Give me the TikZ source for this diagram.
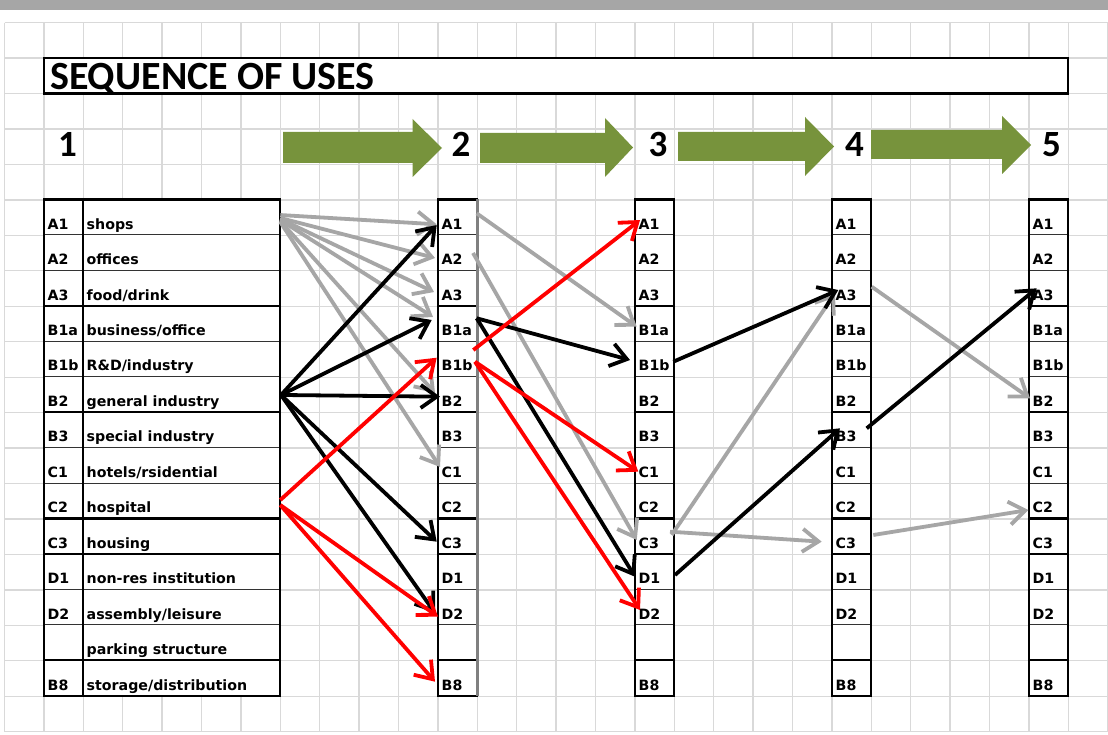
\documentclass[tikz,border=0pt]{standalone}
\usepackage{fontspec}
\usetikzlibrary{arrows.meta,calc}
\newfontfamily\cellfont{DejaVu Sans}
\newfontfamily\headfont{Carlito}
\definecolor{sheetgrid}{HTML}{D9D9D9}
\definecolor{sheetbar}{HTML}{A6A6A6}
\definecolor{stepgreen}{HTML}{77933C}
\definecolor{flowgray}{HTML}{A6A6A6}
\definecolor{flowred}{HTML}{FF0000}
\definecolor{rulegray}{HTML}{808080}

\tikzset{
  gridline/.style={draw=sheetgrid, line width=1.3pt},
  cell/.style={rectangle, inner sep=0pt, outer sep=0pt, anchor=north west,
    fill=white, minimum height=35.45pt},
  codecell/.style={cell, minimum width=39.4pt},
  namecell/.style={cell, minimum width=197pt},
  celltext/.style={anchor=base west, inner sep=0pt,
    font=\cellfont\bfseries\fontsize{14.2}{15}\selectfont},
  thinrule/.style={draw=black!80, line width=1.1pt},
  thickrule/.style={draw=black, line width=2.2pt},
  flow/.style={line width=3.8pt, -{Straight Barb[length=16pt,width=23pt]}},
  grayflow/.style={flow, draw=flowgray},
  blackflow/.style={flow, draw=black},
  redflow/.style={flow, draw=flowred},
  stagearrow/.style={fill=stepgreen},
  stagenum/.style={anchor=base, inner sep=0pt,
    font=\headfont\bfseries\fontsize{37}{37}\selectfont},
}

\begin{document}
\begin{tikzpicture}[x=1pt,y=-1pt]
\useasboundingbox (0,0) rectangle (1108,735);
\fill[white] (0,0) rectangle (1108,735);
\fill[sheetbar] (0,0) rectangle (1108,10.5);

% spreadsheet grid
\foreach \k in {0,...,28}
  \draw[gridline] ({4.5+39.4*\k},22.7) -- ({4.5+39.4*\k},731.7);
\foreach \j in {0,...,20}
  \draw[gridline] (4.5,{22.7+35.45*\j}) -- (1108,{22.7+35.45*\j});

% title bar
\node[cell, draw=black, line width=2.2pt, minimum width=1024.4pt] (title) at (43.9,58.15) {};
\node[anchor=base west, inner sep=0pt,
      font=\headfont\bfseries\fontsize{40}{40}\selectfont]
      (titletext) at ($(title.south west)+(6.1,-4.3)$) {SEQUENCE OF USES};

% stage numbers
\node[stagenum] (s1) at (67.5,156.7) {1};
\node[stagenum] (s2) at (461,156.7) {2};
\node[stagenum] (s3) at (658,156.7) {3};
\node[stagenum] (s4) at (854.5,156.7) {4};
\node[stagenum] (s5) at (1051.5,156.7) {5};

% block arrows between stages
\fill[stagearrow] (283,132) -- (412.5,132) -- (412.5,119) -- (442,148) -- (412.5,177) -- (412.5,163) -- (283,163) -- cycle;
\fill[stagearrow] (480,133) -- (605,133) -- (605,118) -- (633,147.5) -- (605,177) -- (605,163) -- (480,163) -- cycle;
\fill[stagearrow] (678,132) -- (805,132) -- (805,117) -- (834,146.5) -- (805,176) -- (805,161) -- (678,161) -- cycle;
\fill[stagearrow] (871,130) -- (1002,130) -- (1002,116) -- (1031,145) -- (1002,174) -- (1002,159) -- (871,159) -- cycle;

% use-class columns
\foreach \c [count=\r] in {A1,A2,A3,B1a,B1b,B2,B3,C1,C2,C3,D1,D2,{},B8} {
  \node[codecell] (c1-\r) at (43.9,{199.5+35.45*(\r-1)}) {};
  \node[celltext] (l1-\r) at ($(c1-\r.south west)+(3.6,-5.8)$) {\c};
  \foreach \t/\x in {2/437.9,3/634.9,4/831.9,5/1028.9} {
    \node[codecell] (c\t-\r) at (\x,{199.5+35.45*(\r-1)}) {};
    \node[celltext] (l\t-\r) at ($(c\t-\r.south west)+(3.6,-5.8)$) {\c};
  }
}
\foreach \txt [count=\r] in {shops,offices,food/drink,business/office,R\&D/industry,
    general industry,special industry,hotels/rsidential,hospital,housing,
    non-res institution,assembly/leisure,parking structure,storage/distribution} {
  \node[namecell] (n-\r) at (83.3,{199.5+35.45*(\r-1)}) {};
  \node[celltext] (nt-\r) at ($(n-\r.south west)+(3.2,-5.8)$) {\txt};
}

% cell borders
\foreach \r in {1,2,4,5,7,8,11,12} {
  \draw[thinrule] (c1-\r.south west) -- (n-\r.south east);
  \foreach \t in {2,...,5}
    \draw[thinrule] (c\t-\r.south west) -- (c\t-\r.south east);
}
\foreach \r in {3,6,9,10,13} {
  \draw[thickrule] (c1-\r.south west) -- (n-\r.south east);
  \foreach \t in {2,...,5}
    \draw[thickrule] (c\t-\r.south west) -- (c\t-\r.south east);
}
\draw[thickrule] (c1-1.north west) rectangle (n-14.south east);
\draw[thickrule] (c1-1.north east) -- (c1-14.south east);
\foreach \t in {2,...,5}
  \draw[thickrule] (c\t-1.north west) rectangle (c\t-14.south east);
\draw[draw=rulegray, line width=2.6pt] (c2-1.north east) -- (c2-14.south east);

% stage 1 -> 2
\draw[grayflow] ($(n-1.east)+(0,-2.2)$) -- ($(c2-1.west)+(-1.2,7.1)$);
\draw[grayflow] ($(n-1.east)+(0,0.8)$) -- ($(c2-2.west)+(-2.9,5.3)$);
\draw[grayflow] ($(n-1.east)+(0,1.8)$) -- ($(c2-3.west)+(-3.9,3.9)$);
\draw[grayflow] ($(n-1.east)+(0,2.8)$) -- ($(c2-4.west)+(-4.9,-6.6)$);
\draw[grayflow] ($(n-1.east)+(0,3.8)$) -- ($(c2-6.west)+(-2.9,-1.5)$);
\draw[grayflow] ($(n-1.east)+(0,4.8)$) -- ($(c2-8.west)+(2.1,1.6)$);
% stage 2 -> 3 (gray)
\draw[grayflow] ($(c2-1.east)+(-0.6,-3.9)$) -- ($(c3-4.west)+(1.8,3.1)$);
\draw[grayflow] ($(c2-2.east)+(-4.3,0.3)$) -- ($(c3-10.west)+(1.8,3.7)$);
% stage 3 -> 4 (gray)
\draw[grayflow] ($(c3-10.east)+(-2.6,-1.3)$) -- ($(c4-3.west)+(3.1,5.2)$);
\draw[grayflow] ($(c3-10.east)+(-4.3,-4.6)$) -- ($(c4-10.west)+(-10.2,5.4)$);
% stage 4 -> 5 (gray)
\draw[grayflow] ($(c4-3.east)+(0.4,-1.4)$) -- ($(c5-6.west)+(1.1,3.8)$);
\draw[grayflow] ($(c4-10.east)+(2,-1.3)$) -- ($(c5-9.west)+(-0.6,9.2)$);

% black flows
\draw[blackflow] ($(n-6.east)+(0.7,0.5)$) -- ($(c2-1.west)+(-1.2,7.8)$);
\draw[blackflow] ($(n-6.east)+(0.7,0.5)$) -- ($(c2-4.west)+(-6.2,-3.6)$);
\draw[blackflow] ($(n-6.east)+(0.7,0.5)$) -- ($(c2-6.west)+(2.1,2.2)$);
\draw[blackflow] ($(n-6.east)+(0.7,0.5)$) -- ($(c2-10.west)+(-1.2,5.4)$);
\draw[blackflow] ($(n-6.east)+(0.7,0.5)$) -- ($(c2-12.west)+(-2.9,5.8)$);
\draw[blackflow] ($(c2-4.east)+(-0.6,-5.3)$) -- ($(c3-5.west)+(-4.9,1)$);
\draw[blackflow] ($(c2-4.east)+(-0.6,-5.3)$) -- ($(c3-11.west)+(0.1,5)$);
\draw[blackflow] ($(c3-5.east)+(-1,2.7)$) -- ($(c4-3.west)+(6.4,1.9)$);
\draw[blackflow] ($(c3-11.east)+(0.7,3.3)$) -- ($(c4-7.west)+(8.1,-1.6)$);
\draw[blackflow] ($(c4-7.east)+(-4.6,-1.6)$) -- ($(c5-3.west)+(7.8,0.2)$);

% red flows
\draw[redflow] ($(n-9.east)+(0,-0.8)$) -- ($(c2-5.west)+(-1.2,-1.3)$);
\draw[redflow] ($(n-9.east)+(0,4.2)$) -- ($(c2-12.west)+(0.1,9.5)$);
\draw[redflow] ($(n-9.east)+(0,4.2)$) -- ($(c2-14.west)+(-2.9,3.6)$);
\draw[redflow] ($(c2-5.east)+(-4,-9)$) -- ($(c3-1.west)+(5.1,2.8)$);
\draw[redflow] ($(c2-5.east)+(-2.3,2.7)$) -- ($(c3-8.west)+(3.4,6.3)$);
\draw[redflow] ($(c2-5.east)+(-2.3,2.7)$) -- ($(c3-12.west)+(5.1,2.8)$);
\end{tikzpicture}
\end{document}
